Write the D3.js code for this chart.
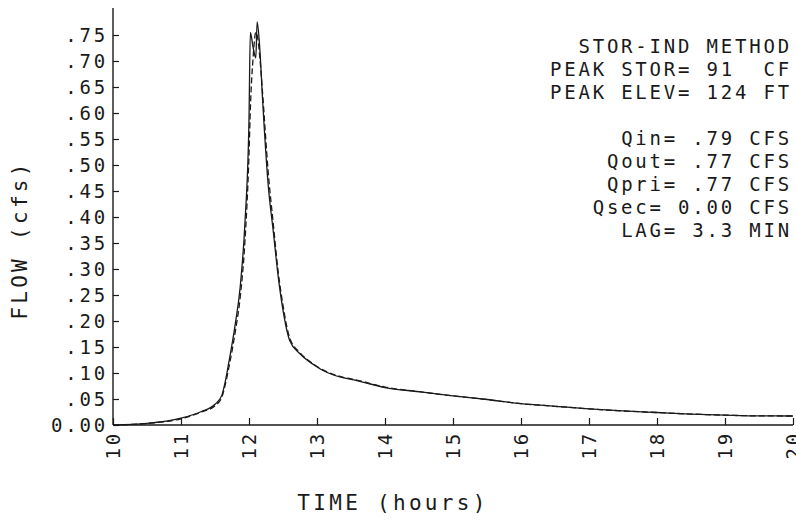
<!DOCTYPE html>
<html>
<head>
<meta charset="utf-8">
<script src="https://cdn.jsdelivr.net/npm/d3@7"></script>
<style>
  body { margin: 0; background: #fff; }
  text { font-family: "DejaVu Sans Mono", monospace; fill: #1a1a1a; white-space: pre; }
</style>
</head>
<body>
<div class="container"></div>
<script>
const width = 796;
const height = 525;
const inkColor = '#1a1a1a';

// hydrograph (hours, cfs)
const hours = [10, 10.5, 11, 11.3, 11.5, 11.6, 11.65, 11.7, 11.8, 11.87, 11.94, 12.0, 12.02, 12.06, 12.1, 12.12, 12.16, 12.2,
    12.28, 12.36, 12.43, 12.5, 12.6, 12.75, 12.95, 13.15, 13.35, 13.6, 14, 14.5, 15, 15.5, 16, 16.5, 17, 17.5, 18, 18.5, 19, 19.5, 20];
const inflow = [0, 0.003, 0.013, 0.026, 0.04, 0.057, 0.083, 0.118, 0.196, 0.265, 0.388, 0.589, 0.755, 0.726, 0.706, 0.775, 0.721, 0.625,
    0.465, 0.369, 0.285, 0.221, 0.162, 0.137, 0.116, 0.101, 0.092, 0.085, 0.072, 0.064, 0.056, 0.049, 0.041, 0.036, 0.031, 0.027, 0.024, 0.021, 0.019, 0.0175, 0.0173];
const outflow = [0, 0.003, 0.012, 0.025, 0.037, 0.053, 0.077, 0.108, 0.181, 0.245, 0.353, 0.52, 0.608, 0.706, 0.755, 0.75, 0.706, 0.638,
    0.49, 0.383, 0.294, 0.23, 0.167, 0.139, 0.117, 0.102, 0.093, 0.086, 0.073, 0.064, 0.056, 0.049, 0.041, 0.036, 0.031, 0.027, 0.024, 0.021, 0.019, 0.0175, 0.0173];

const xTicks = [10, 11, 12, 13, 14, 15, 16, 17, 18, 19, 20];
const yTicks = [0, 0.05, 0.10, 0.15, 0.20, 0.25, 0.30, 0.35, 0.40, 0.45, 0.50, 0.55, 0.60, 0.65, 0.70, 0.75];
const yTickLabels = ['0.00', '.05', '.10', '.15', '.20', '.25', '.30', '.35', '.40', '.45', '.50', '.55', '.60', '.65', '.70', '.75'];

const notes = [
    'STOR-IND METHOD',
    'PEAK STOR= 91  CF',
    'PEAK ELEV= 124 FT',
    '',
    'Qin= .79 CFS',
    'Qout= .77 CFS',
    'Qpri= .77 CFS',
    'Qsec= 0.00 CFS',
    'LAG= 3.3 MIN',
];

const plot = { left: 113, right: 793, top: 8, bottom: 425 };

const x = d3.scaleLinear().domain([10, 20]).range([plot.left, plot.right]);
const y = d3.scaleLinear().domain([0, 0.8]).range([plot.bottom, plot.bottom - 0.8 * 520]);

const svg = d3.select('.container')
    .append('svg')
    .attr('width', width)
    .attr('height', height);

// axes (ticks point into the plot)
const xAxis = svg.append('g')
    .attr('transform', `translate(0,${plot.bottom})`)
    .call(d3.axisTop(x).tickValues(xTicks).tickSize(7).tickFormat(''));
const yAxis = svg.append('g')
    .attr('transform', `translate(${plot.left},0)`)
    .call(d3.axisRight(y).tickValues(yTicks).tickSize(6).tickFormat(''));
[xAxis, yAxis].forEach(g => {
    g.select('.domain').remove();
    g.selectAll('line').attr('stroke', inkColor).attr('stroke-width', 1.2);
});
svg.append('line')
    .attr('x1', plot.left).attr('x2', plot.left)
    .attr('y1', plot.top).attr('y2', plot.bottom)
    .attr('stroke', inkColor).attr('stroke-width', 1.4);
svg.append('line')
    .attr('x1', plot.left).attr('x2', plot.right)
    .attr('y1', plot.bottom).attr('y2', plot.bottom)
    .attr('stroke', inkColor).attr('stroke-width', 1.4);

const labelFont = sel => sel.attr('font-size', 19).attr('letter-spacing', 2.8);
const titleFont = sel => sel.attr('font-size', 21).attr('letter-spacing', 3.3);

// y tick labels
svg.append('g').selectAll('text')
    .data(yTicks)
    .enter()
    .append('text')
    .attr('x', plot.left - 5)
    .attr('y', d => y(d))
    .attr('dy', '0.36em')
    .attr('text-anchor', 'end')
    .text((d, i) => yTickLabels[i])
    .call(labelFont);

// x tick labels, rotated
svg.append('g').selectAll('text')
    .data(xTicks)
    .enter()
    .append('text')
    .attr('transform', d => `translate(${x(d)},${plot.bottom + 6}) rotate(-90)`)
    .attr('dy', '0.36em')
    .attr('text-anchor', 'end')
    .text(d => d)
    .call(labelFont);

// axis titles
svg.append('text')
    .attr('x', 393)
    .attr('y', 510)
    .attr('text-anchor', 'middle')
    .text('TIME (hours)')
    .call(titleFont);
svg.append('text')
    .attr('transform', 'translate(27,240) rotate(-90)')
    .attr('text-anchor', 'middle')
    .text('FLOW (cfs)')
    .call(titleFont);

// hydrographs
const line = d3.line()
    .x((d, i) => x(hours[i]))
    .y(d => y(d))
    .curve(d3.curveMonotoneX);
svg.append('path')
    .attr('d', line(inflow))
    .attr('fill', 'none')
    .attr('stroke', inkColor)
    .attr('stroke-width', 1.3);
svg.append('path')
    .attr('d', line(outflow))
    .attr('fill', 'none')
    .attr('stroke', inkColor)
    .attr('stroke-width', 1.3)
    .attr('stroke-dasharray', '6,3');

// summary block
svg.append('g').selectAll('text')
    .data(notes)
    .enter()
    .append('text')
    .attr('x', 792)
    .attr('y', (d, i) => 53 + i * 23)
    .attr('text-anchor', 'end')
    .text(d => d)
    .call(labelFont);
</script>
</body>
</html>
